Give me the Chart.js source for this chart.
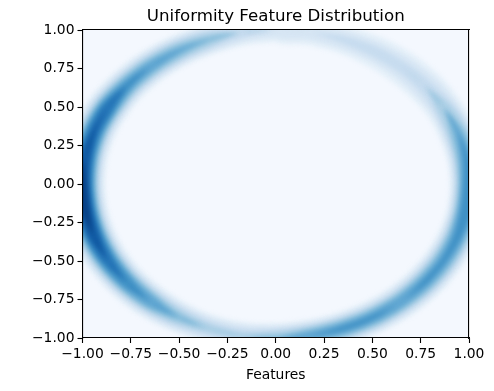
<!DOCTYPE html>
<html lang="en">
<head>
  <meta charset="UTF-8">
  <title>Uniformity Feature Distribution</title>
  <script src="https://cdn.jsdelivr.net/npm/chart.js"></script>
  <style>
    body { margin: 0; background: white; }
    canvas { display: block; }
  </style>
</head>
<body>
  <canvas id="myChart" width="494" height="391"></canvas>

  <script>
    const tickValues = [-1, -0.75, -0.5, -0.25, 0, 0.25, 0.5, 0.75, 1];
    // direction round the ring in degrees, one entry per width below
    const ringAngles = [0,10,20,30,40,50,60,70,80,90,100,110,120,130,140,150,160,170,180,190,200,210,220,230,240,250,260,270,280,290,300,310,320,330,340,350];
    const ringRadius = 1.0;

    // half width of the ring at each density level
    const width06 = [.100,.100,.102,.100,.105,.105,.100,.090,.085,.080,.086,.097,.103,.106,.108,.113,.114,.116,.118,.118,.116,.113,.110,.107,.099,.091,.090,.097,.105,.107,.107,.107,.107,.105,.102,.100];
    const width12 = [.086,.086,.084,.076,.075,.070,.065,.058,.052,.051,.062,.078,.084,.088,.091,.097,.097,.100,.102,.102,.100,.097,.093,.089,.079,.070,.068,.078,.087,.090,.090,.089,.090,.088,.087,.086];
    const width20 = [.074,.072,.068,.056,.041,.034,.032,.022,0,0,.036,.059,.068,.072,.075,.082,.083,.086,.089,.089,.086,.082,.078,.073,.061,.048,.045,.059,.070,.074,.074,.073,.074,.074,.073,.074];
    const width28 = [.064,.060,.054,.037,0,0,0,0,0,0,0,.042,.054,.059,.063,.072,.072,.076,.078,.078,.076,.072,.067,.060,.045,.026,.019,.042,.057,.062,.062,.060,.062,.062,.062,.064];
    const width38 = [.052,.048,.037,0,0,0,0,0,0,0,0,.016,.037,.044,.050,.060,.061,.065,.068,.068,.065,.060,.054,.046,.022,0,0,.016,.042,.048,.048,.046,.048,.048,.050,.052];
    const width48 = [.042,.033,.014,0,0,0,0,0,0,0,0,0,.014,.028,.036,.049,.051,.055,.059,.059,.055,.049,.042,.031,0,0,0,0,.024,.033,.033,.031,.033,.033,.036,.042];
    const width58 = [.028,.013,0,0,0,0,0,0,0,0,0,0,0,0,.019,.038,.040,.046,.050,.050,.046,.038,.028,0,0,0,0,0,0,.013,.013,0,.013,.013,.019,.028];
    const width68 = [0,0,0,0,0,0,0,0,0,0,0,0,0,0,0,.026,.029,.036,.042,.042,.036,.026,0,0,0,0,0,0,0,0,0,0,0,0,0,0];
    const width78 = [0,0,0,0,0,0,0,0,0,0,0,0,0,0,0,0,.011,.025,.032,.032,.025,0,0,0,0,0,0,0,0,0,0,0,0,0,0,0];
    const width88 = [0,0,0,0,0,0,0,0,0,0,0,0,0,0,0,0,0,0,.021,.021,0,0,0,0,0,0,0,0,0,0,0,0,0,0,0,0];

    const levelWidths = [width06, width12, width20, width28, width38, width48, width58, width68, width78, width88];
    const levelColors = ['#e5f0f9', '#d7e6f4', '#c7dcef', '#add0e6', '#88bedc', '#61a7d2', '#4091c5', '#2676b8', '#125ca5', '#084287'];

    const font = 'DejaVu Sans';
    // each band opens and closes at 90 degrees, where the ring runs out of the plot
    const seamIndex = 9;

    function polar(radius, deg) {
      const a = deg * Math.PI / 180;
      return { x: radius * Math.cos(a), y: radius * Math.sin(a) };
    }

    // closed band: outer edge going round, inner edge coming back
    function bandPoints(widths) {
      const outer = [];
      const inner = [];
      for (let k = 0; k <= ringAngles.length; k++) {
        const i = (k + seamIndex) % ringAngles.length;
        outer.push(polar(ringRadius + widths[i], ringAngles[i]));
        inner.push(polar(ringRadius - widths[i], ringAngles[i]));
      }
      return outer.concat(inner.reverse());
    }

    function band(points, color) {
      return {
        data: points,
        showLine: true,
        fill: 'shape',
        backgroundColor: color,
        borderColor: 'transparent',
        borderWidth: 0,
        pointRadius: 0,
        tension: 0.3
      };
    }

    // first dataset is painted last, so the densest level goes first
    const datasets = levelWidths.map((w, i) => band(bandPoints(w), levelColors[i])).reverse();
    datasets.push(band([{x:-1.5,y:-1.5},{x:1.5,y:-1.5},{x:1.5,y:1.5},{x:-1.5,y:1.5}], '#f4f8fe'));

    const softBands = {
      id: 'softBands',
      beforeDatasetsDraw(chart) { chart.ctx.filter = 'blur(2px)'; },
      afterDatasetsDraw(chart) { chart.ctx.filter = 'none'; }
    };

    const tickLabel = v => Number(v).toFixed(2).replace('-', '\u2212');
    // z above the datasets, the bands would cover the spines otherwise
    const spine = { display: true, color: 'black', width: 1.1, z: 1 };

    function mainAxis(position, fit) {
      return {
        type: 'linear',
        position: position,
        min: -1,
        max: 1,
        afterBuildTicks: scale => { scale.ticks = tickValues.map(v => ({ value: v })); },
        afterFit: fit,
        border: spine,
        grid: { drawOnChartArea: false, drawTicks: true, tickLength: 5, tickColor: 'black', tickWidth: 1.1 },
        ticks: {
          color: 'black',
          padding: 3,
          maxRotation: 0,
          autoSkip: false,
          font: { family: font, size: 13.89 },
          callback: tickLabel
        }
      };
    }

    function edgeAxis(axis, position) {
      return {
        axis: axis,
        position: position,
        border: spine,
        grid: { drawOnChartArea: false, drawTicks: false },
        ticks: { display: false }
      };
    }

    const xAxis = mainAxis('bottom', s => { s.height = 53; });
    xAxis.title = { display: true, text: 'Features', color: 'black', padding: { top: 4, bottom: 7 }, font: { family: font, size: 13.89 } };

    // title sits on the top axis so it centres over the plot, not the page
    const topAxis = edgeAxis('x', 'top');
    topAxis.afterFit = s => { s.height = 30; };
    topAxis.title = { display: true, text: 'Uniformity Feature Distribution', color: 'black', padding: { top: 7, bottom: 3 }, font: { family: font, size: 16.67, weight: 'normal' } };

    new Chart(document.getElementById('myChart').getContext('2d'), {
      type: 'scatter',
      data: { datasets: datasets },
      plugins: [softBands],
      options: {
        responsive: false,
        animation: false,
        layout: { padding: { left: 0, right: 25, top: 0, bottom: 0 } },
        plugins: {
          legend: { display: false },
          tooltip: { enabled: false }
        },
        scales: {
          x: xAxis,
          y: mainAxis('left', s => { s.width = 82.5; }),
          xTop: topAxis,
          yRight: edgeAxis('y', 'right')
        }
      }
    });
  </script>
</body>
</html>
